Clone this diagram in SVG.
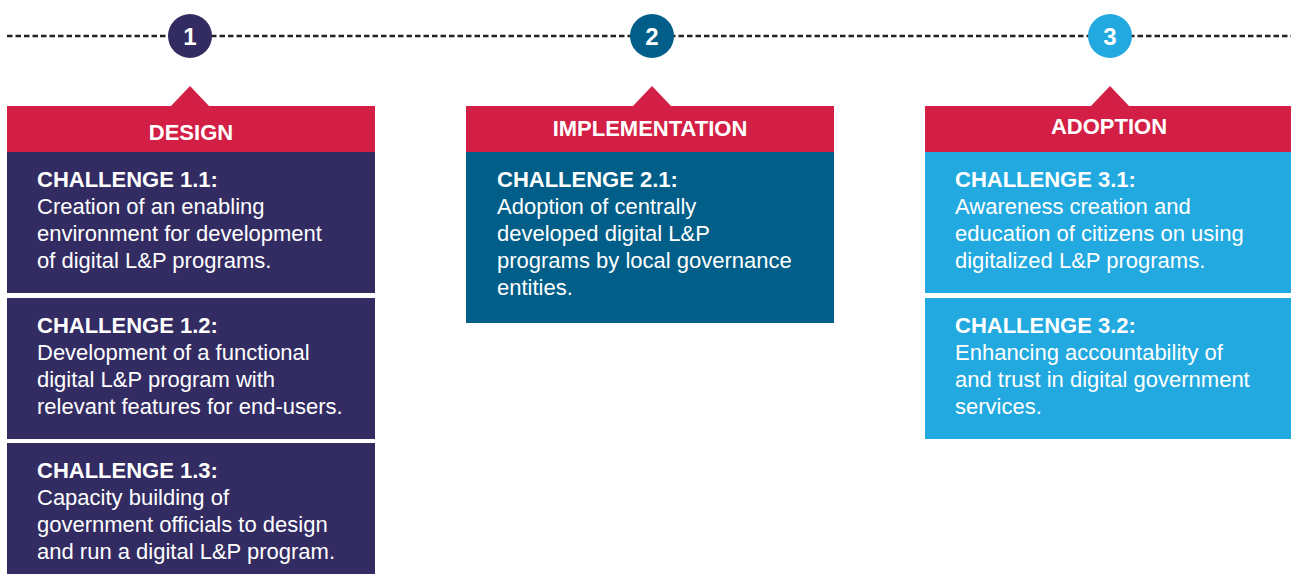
<svg xmlns="http://www.w3.org/2000/svg" width="1291" height="574" viewBox="0 0 1291 574">
<style>
.hd{font-family:"Liberation Sans",Arial,sans-serif;font-weight:bold;font-size:22px;fill:#fff;text-anchor:middle}
.num{font-family:"Liberation Sans",Arial,sans-serif;font-weight:bold;font-size:24px;fill:#fff;text-anchor:middle}
.tt{font-family:"Liberation Sans",Arial,sans-serif;font-weight:bold;font-size:22px;fill:#fff}
.bd{font-family:"Liberation Sans",Arial,sans-serif;font-size:22px;fill:#fff}
.red{fill:#d31f45}
.c1{fill:#332c63}
.c2{fill:#005e88}
.c3{fill:#22a9e0}
</style>
<g id="connectors">
<line x1="7" y1="36" x2="1291" y2="36" stroke="#222" stroke-width="2.5" stroke-dasharray="5.5 3"/>
</g>
<g id="step1">
<circle class="c1" cx="190" cy="36" r="22"/>
<text class="num" x="190" y="45">1</text>
</g>
<g id="step2">
<circle class="c2" cx="652" cy="36" r="22"/>
<text class="num" x="652" y="45">2</text>
</g>
<g id="step3">
<circle class="c3" cx="1110" cy="36" r="22"/>
<text class="num" x="1110" y="45">3</text>
</g>
<g id="design">
<polygon class="red" points="171,106 190,86 209,106"/>
<rect class="red" x="7" y="106" width="368" height="46"/>
<text class="hd" x="191" y="140">DESIGN</text>
</g>
<g id="implementation">
<polygon class="red" points="633,106 652,86 671,106"/>
<rect class="red" x="466" y="106" width="368" height="46"/>
<text class="hd" x="650" y="136">IMPLEMENTATION</text>
</g>
<g id="adoption">
<polygon class="red" points="1091,106 1110,86 1129,106"/>
<rect class="red" x="925" y="106" width="366" height="46"/>
<text class="hd" x="1109" y="134">ADOPTION</text>
</g>
<g id="ch11">
<rect class="c1" x="7" y="152" width="368" height="141"/>
<text class="tt" x="37" y="187">CHALLENGE 1.1:</text>
<text class="bd" x="37" y="214">Creation of an enabling</text>
<text class="bd" x="37" y="241">environment for development</text>
<text class="bd" x="37" y="268">of digital L&amp;P programs.</text>
</g>
<g id="ch12">
<rect class="c1" x="7" y="298" width="368" height="141"/>
<text class="tt" x="37" y="333">CHALLENGE 1.2:</text>
<text class="bd" x="37" y="360">Development of a functional</text>
<text class="bd" x="37" y="387">digital L&amp;P program with</text>
<text class="bd" x="37" y="414">relevant features for end-users.</text>
</g>
<g id="ch13">
<rect class="c1" x="7" y="443" width="368" height="131"/>
<text class="tt" x="37" y="478">CHALLENGE 1.3:</text>
<text class="bd" x="37" y="505">Capacity building of</text>
<text class="bd" x="37" y="532">government officials to design</text>
<text class="bd" x="37" y="559">and run a digital L&amp;P program.</text>
</g>
<g id="ch21">
<rect class="c2" x="466" y="152" width="368" height="171"/>
<text class="tt" x="497" y="187">CHALLENGE 2.1:</text>
<text class="bd" x="497" y="214">Adoption of centrally</text>
<text class="bd" x="497" y="241">developed digital L&amp;P</text>
<text class="bd" x="497" y="268">programs by local governance</text>
<text class="bd" x="497" y="295">entities.</text>
</g>
<g id="ch31">
<rect class="c3" x="925" y="152" width="366" height="141"/>
<text class="tt" x="955" y="187">CHALLENGE 3.1:</text>
<text class="bd" x="955" y="214">Awareness creation and</text>
<text class="bd" x="955" y="241">education of citizens on using</text>
<text class="bd" x="955" y="268">digitalized L&amp;P programs.</text>
</g>
<g id="ch32">
<rect class="c3" x="925" y="298" width="366" height="141"/>
<text class="tt" x="955" y="333">CHALLENGE 3.2:</text>
<text class="bd" x="955" y="360">Enhancing accountability of</text>
<text class="bd" x="955" y="387">and trust in digital government</text>
<text class="bd" x="955" y="414">services.</text>
</g>
</svg>
